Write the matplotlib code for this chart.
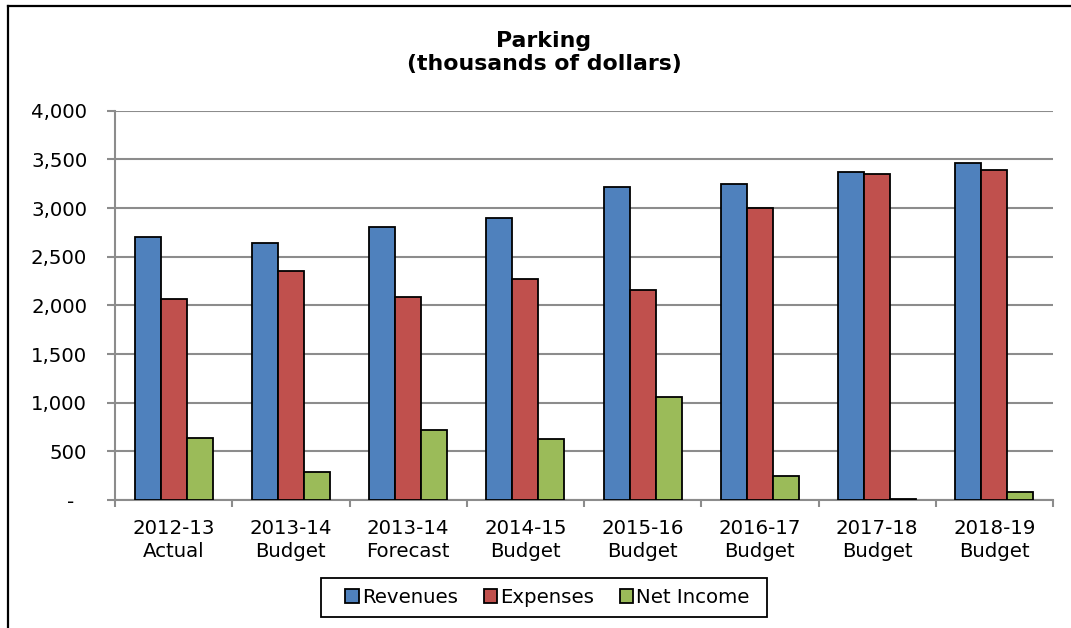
import matplotlib
matplotlib.use("Agg")
import matplotlib.pyplot as plt
from matplotlib.lines import Line2D
from matplotlib.patches import Rectangle
from matplotlib.ticker import FuncFormatter, FixedLocator
import numpy as np

categories = ["2012-13\nActual", "2013-14\nBudget", "2013-14\nForecast", "2014-15\nBudget",
              "2015-16\nBudget", "2016-17\nBudget", "2017-18\nBudget", "2018-19\nBudget"]
revenues = [2705, 2644, 2805, 2901, 3219, 3250, 3366, 3466]
expenses = [2065, 2353, 2086, 2271, 2161, 3000, 3353, 3387]
net_income = [640, 291, 719, 630, 1058, 250, 13, 79]
series_names = ["Revenues", "Expenses", "Net Income"]
colors = ["#4F81BD", "#C0504D", "#9BBB59"]

W, H = 1071, 628
fig = plt.figure(figsize=(W / 100, H / 100), dpi=100)
plt.rcParams['font.family'] = ['DejaVu Sans']
FS = 14.2

ax = fig.add_axes([115 / W, 1 - 500 / H, (1053 - 115) / W, (500 - 110.7) / H])

x = np.arange(len(categories))
bw = 0.2222
for i, (vals, name, c) in enumerate(zip([revenues, expenses, net_income], series_names, colors)):
    ax.bar(x + (i - 1) * bw, vals, width=bw, color=c, edgecolor="black", linewidth=1.3,
           label=name, zorder=3)

ax.set_xlim(-0.5, len(categories) - 0.5)
ax.set_ylim(0, 4000)
ax.set_yticks(np.arange(0, 4001, 500))
ax.yaxis.set_major_formatter(FuncFormatter(lambda v, p: "-  " if v == 0 else f"{int(v):,}"))
ax.grid(axis="y", color="#8c8c8c", linewidth=1.5, zorder=0)
ax.set_axisbelow(True)

ax.set_xticks(x)
ax.set_xticklabels(categories, fontsize=FS, linespacing=1.22)
ax.xaxis.set_minor_locator(FixedLocator(np.arange(-0.5, len(categories), 1.0)))
ax.tick_params(axis="x", which="major", length=0, pad=14)
ax.tick_params(axis="x", which="minor", length=5, width=1.5, color="#8c8c8c", direction="out")
ax.tick_params(axis="y", length=6, width=1.5, color="#8c8c8c", labelsize=FS, pad=14)

for s in ["top", "right"]:
    ax.spines[s].set_visible(False)
for s in ["left", "bottom"]:
    ax.spines[s].set_color("#8c8c8c")
    ax.spines[s].set_linewidth(1.5)

fig.text(544 / W, 1 - 41 / H, "Parking", ha="center", va="center", fontsize=15.8, fontweight="bold")
fig.text(544 / W, 1 - 64 / H, "(thousands of dollars)", ha="center", va="center", fontsize=15.8,
         fontweight="bold")

# legend entries (frame drawn separately)
leg = fig.legend(*ax.get_legend_handles_labels(), loc="center",
                 bbox_to_anchor=(547.5 / W, 1 - 597.5 / H),
                 ncol=3, fontsize=FS, frameon=False,
                 handlelength=0.68, handleheight=0.68, handletextpad=0.16, columnspacing=1.3,
                 borderpad=0.2)
fig.add_artist(Rectangle((321 / W, 1 - 617 / H), (767 - 321) / W, (617 - 578) / H,
                         transform=fig.transFigure, fill=False, edgecolor="black", linewidth=1.3))

fig.add_artist(Line2D([8 / W, 8 / W], [0, 1 - 6 / H], color="black", linewidth=1.6,
                      transform=fig.transFigure))
fig.add_artist(Line2D([8 / W, 1], [1 - 6 / H, 1 - 6 / H], color="black", linewidth=1.6,
                      transform=fig.transFigure))

fig.savefig("out.png", dpi=100)
